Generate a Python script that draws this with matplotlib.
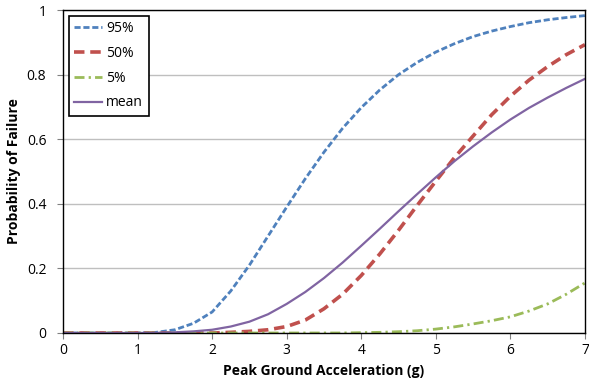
import matplotlib
matplotlib.use("Agg")
import matplotlib.pyplot as plt

plt.rcParams['font.family'] = ['Open Sans', 'DejaVu Sans']

# peak ground acceleration (g)
pga = [0, 0.25, 0.5, 0.75, 1.0, 1.25, 1.5, 1.75, 2.0, 2.25, 2.5, 2.75, 3.0, 3.25,
       3.5, 3.75, 4.0, 4.25, 4.5, 4.75, 5.0, 5.25, 5.5, 5.75, 6.0, 6.25, 6.5, 6.75, 7.0]

p95 = [0, 0, 0, 0, 0, 0.002, 0.01, 0.03, 0.065, 0.13, 0.21, 0.30, 0.39, 0.478,
       0.56, 0.634, 0.698, 0.753, 0.80, 0.838, 0.87, 0.896, 0.918, 0.935, 0.949,
       0.961, 0.97, 0.977, 0.983]
p50 = [0, 0, 0, 0, 0, 0, 0, 0, 0, 0.002, 0.005, 0.01, 0.02, 0.04,
       0.075, 0.12, 0.178, 0.245, 0.318, 0.395, 0.47, 0.543, 0.61, 0.676, 0.733,
       0.783, 0.825, 0.862, 0.893]
p05 = [0, 0, 0, 0, 0, 0, 0, 0, 0, 0, 0, 0, 0, 0,
       0, 0, 0.001, 0.002, 0.004, 0.007, 0.012, 0.019, 0.028, 0.038, 0.05,
       0.068, 0.09, 0.12, 0.155]
pmean = [0, 0, 0, 0, 0, 0.0005, 0.002, 0.005, 0.01, 0.02, 0.035, 0.058, 0.09, 0.127,
         0.17, 0.218, 0.27, 0.323, 0.377, 0.43, 0.482, 0.532, 0.578, 0.621, 0.661,
         0.697, 0.729, 0.759, 0.787]

xticks = [0, 1, 2, 3, 4, 5, 6, 7]
yticks = [0, 0.2, 0.4, 0.6, 0.8, 1]
yticklabels = ["0", "0.2", "0.4", "0.6", "0.8", "1"]

fig = plt.figure(figsize=(5.89, 3.89), dpi=100)
ax = fig.add_axes([0.107, 0.144, 0.886, 0.830])

ax.plot(pga, p95, color="#4F81BD", lw=2, dashes=(2.2, 1.0), label="95%")
ax.plot(pga, p50, color="#C0504D", lw=2.6, dashes=(2.9, 1.6), label="50%")
ax.plot(pga, p05, color="#9BBB59", lw=2, dashes=(3.6, 1.5, 0.8, 1.5), label="5%")
ax.plot(pga, pmean, color="#8064A2", lw=1.6, label="mean")

ax.set_xlim(0, 7)
ax.set_ylim(0, 1)
ax.set_xticks(xticks)
ax.set_yticks(yticks)
ax.set_yticklabels(yticklabels)
ax.yaxis.grid(True, color="#BFBFBF", lw=1)
ax.set_axisbelow(True)
for s in ax.spines.values():
    s.set_color("black")
    s.set_linewidth(1)
ax.tick_params(axis="both", labelsize=10, length=4, color="#808080", direction="out")
ax.tick_params(axis="y", pad=8)

ax.set_xlabel("Peak Ground Acceleration (g)", fontsize=10, fontweight="bold")
ax.set_ylabel("Probability of Failure", fontsize=10, fontweight="bold")

leg = ax.legend(loc="upper left", fontsize=10, fancybox=False, framealpha=1,
                edgecolor="black", handlelength=2.0, handletextpad=0.3,
                labelspacing=0.7, borderaxespad=0.4)
leg.get_frame().set_linewidth(1.2)

fig.savefig("out.png", dpi=100)
plt.close(fig)
